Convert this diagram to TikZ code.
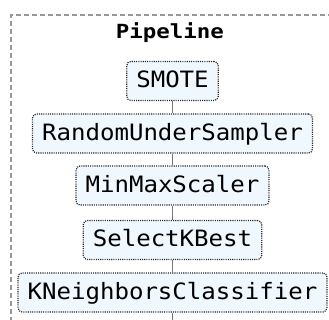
\documentclass[tikz,border=0pt]{standalone}
\usepackage{fontspec}
\newfontfamily\stepfont[FakeStretch=1.07]{DejaVu Sans Mono}
\newfontfamily\pipefont[FakeStretch=1.15]{DejaVu Sans Mono}
\definecolor{boxfill}{HTML}{F0F8FF}
\definecolor{boxline}{HTML}{2A2A2A}
\definecolor{linkgray}{HTML}{777777}
\definecolor{framegray}{HTML}{999999}
\tikzset{
  stepbox/.style={draw=boxline, fill=boxfill, line width=1.2pt,
    dash pattern=on 1.1pt off 1.1pt, rounded corners=4pt,
    font=\stepfont\fontsize{22.5}{24}\selectfont,
    text height=17pt, text depth=3pt, minimum height=39pt, inner xsep=9.5pt},
  link/.style={draw=linkgray, line width=1.3pt},
  frame/.style={draw=framegray, line width=1.2pt, dash pattern=on 5pt off 3pt},
}
\begin{document}
\begin{tikzpicture}[x=1pt,y=-1pt]
\useasboundingbox (0,0) rectangle (329,320);
\clip (0,0) rectangle (329,320);
\draw[frame] (11,330) -- (11,15) -- (340,15);
\node[font=\pipefont\bfseries\fontsize{19.5}{21}\selectfont, anchor=base] (title) at (170,38.7) {Pipeline};
\node[stepbox] (smote) at (172.5,81) {SMOTE};
\node[stepbox] (rus) at (172.5,133.5) {RandomUnderSampler};
\node[stepbox] (mms) at (172.5,185.5) {MinMaxScaler};
\node[stepbox] (skb) at (172.5,240) {SelectKBest};
\node[stepbox] (knn) at (172.5,292.5) {KNeighborsClassifier};
\coordinate (out) at (172.5,322);
\draw[link] (smote.south) -- (rus.north);
\draw[link] (rus.south) -- (mms.north);
\draw[link] (mms.south) -- (skb.north);
\draw[link] (skb.south) -- (knn.north);
\draw[link] (knn.south) -- (out);
\end{tikzpicture}
\end{document}
